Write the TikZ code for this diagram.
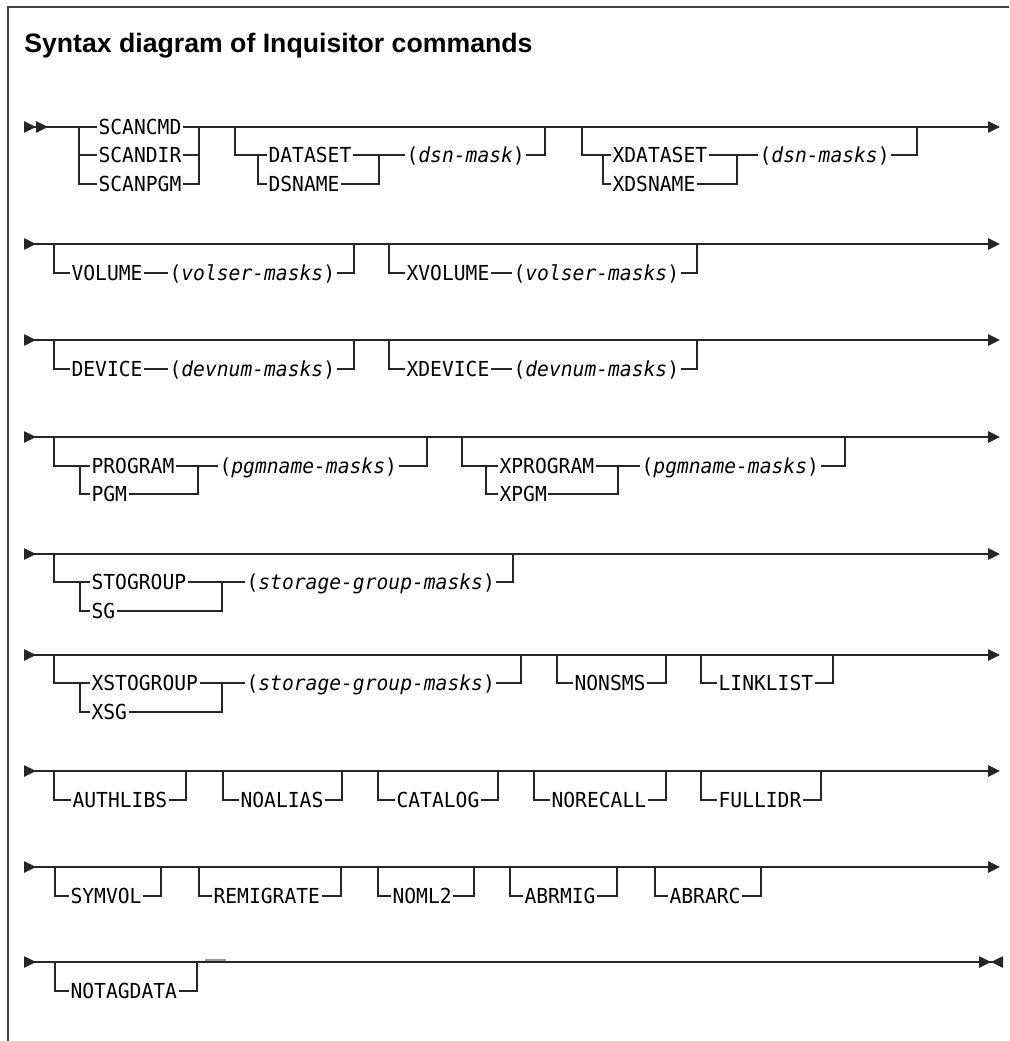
\documentclass[tikz,border=0pt]{standalone}
\usepackage{fontspec}
\setmainfont{Liberation Sans}
\newfontfamily\railfont[FakeStretch=0.95]{DejaVu Sans Mono}
\usetikzlibrary{arrows.meta}
\begin{document}
\begin{tikzpicture}[x=0.75pt,y=-0.75pt]
\tikzset{rail/.style = {line width=1.1pt, black!85}}
\tikzset{item/.style = {font={\railfont\fontsize{15.5pt}{17pt}\selectfont}, inner xsep=1pt, inner ysep=0pt, anchor=west, text height=11.3pt, text depth=0pt}}
\tikzset{railrow/.style = {{Triangle[reversed,length=9pt,width=8.5pt]}-{Triangle[length=9pt,width=8.5pt]}}}
\useasboundingbox (0,0) rectangle (1009,1041);
% frame and title
\draw[line width=1.5pt, black!75] (8,1041) -- (8,7) -- (1009,7);
\node[anchor=base west, inner sep=0pt, font={\fontsize{20pt}{24pt}\selectfont\bfseries}] (title) at (24,53) {Syntax diagram of Inquisitor commands};

% row 1
\coordinate (r1s) at (24,127);
\coordinate (r1e) at (1000,127);
\node[item] (scancmd) at (97,127) {SCANCMD};
\node[item] (scandir) at (97,155) {SCANDIR};
\node[item] (scanpgm) at (97,184) {SCANPGM};
\coordinate (scanL) at (79,127);
\coordinate (scanR) at (199,127);
\draw[rail, {Triangle[reversed,length=9pt,width=8.5pt]Triangle[reversed,length=9pt,width=8.5pt]}-] (r1s) -- (scancmd.west);
\draw[rail, -{Triangle[length=9pt,width=8.5pt]}] (scancmd.east) -- (r1e);
\draw[rail] (scanL) |- (scandir.west);
\draw[rail] (scanL) |- (scanpgm.west);
\draw[rail] (scandir.east) -| (scanR);
\draw[rail] (scanpgm.east) -| (scanR);
\node[item] (dataset) at (267,155) {DATASET};
\node[item] (dsname) at (267,184) {DSNAME};
\node[item] (dsnmask) at (405,155) {(\textit{dsn-mask})};
\coordinate (dsL) at (235,127);
\coordinate (dsS) at (258,155);
\coordinate (dsJ) at (379,155);
\coordinate (dsR) at (545,127);
\draw[rail] (dsL) |- (dataset.west);
\draw[rail] (dsS) |- (dsname.west);
\draw[rail] (dataset.east) -- (dsnmask.west);
\draw[rail] (dsname.east) -| (dsJ);
\draw[rail] (dsnmask.east) -| (dsR);
\node[item] (xdataset) at (611,155) {XDATASET};
\node[item] (xdsname) at (611,184) {XDSNAME};
\node[item] (dsnmasks) at (758,155) {(\textit{dsn-masks})};
\coordinate (xdsL) at (582,127);
\coordinate (xdsS) at (603,155);
\coordinate (xdsJ) at (737,155);
\coordinate (xdsR) at (917,127);
\draw[rail] (xdsL) |- (xdataset.west);
\draw[rail] (xdsS) |- (xdsname.west);
\draw[rail] (xdataset.east) -- (dsnmasks.west);
\draw[rail] (xdsname.east) -| (xdsJ);
\draw[rail] (dsnmasks.east) -| (xdsR);

% row 2
\coordinate (r2s) at (24,244);
\coordinate (r2e) at (1000,244);
\draw[rail, railrow] (r2s) -- (r2e);
\node[item] (volume) at (70,273) {VOLUME};
\node[item] (volsermasks) at (168,273) {(\textit{volser-masks})};
\coordinate (volL) at (54,244);
\coordinate (volR) at (354,244);
\draw[rail] (volL) |- (volume.west);
\draw[rail] (volume.east) -- (volsermasks.west);
\draw[rail] (volsermasks.east) -| (volR);
\node[item] (xvolume) at (405,273) {XVOLUME};
\node[item] (xvolsermasks) at (512,273) {(\textit{volser-masks})};
\coordinate (xvolL) at (389,244);
\coordinate (xvolR) at (697,244);
\draw[rail] (xvolL) |- (xvolume.west);
\draw[rail] (xvolume.east) -- (xvolsermasks.west);
\draw[rail] (xvolsermasks.east) -| (xvolR);

% row 3
\coordinate (r3s) at (24,340);
\coordinate (r3e) at (1000,340);
\draw[rail, railrow] (r3s) -- (r3e);
\node[item] (device) at (70,369) {DEVICE};
\node[item] (devnummasks) at (168,369) {(\textit{devnum-masks})};
\coordinate (devL) at (54,340);
\coordinate (devR) at (354,340);
\draw[rail] (devL) |- (device.west);
\draw[rail] (device.east) -- (devnummasks.west);
\draw[rail] (devnummasks.east) -| (devR);
\node[item] (xdevice) at (405,369) {XDEVICE};
\node[item] (xdevnummasks) at (512,369) {(\textit{devnum-masks})};
\coordinate (xdevL) at (389,340);
\coordinate (xdevR) at (697,340);
\draw[rail] (xdevL) |- (xdevice.west);
\draw[rail] (xdevice.east) -- (xdevnummasks.west);
\draw[rail] (xdevnummasks.east) -| (xdevR);

% row 4
\coordinate (r4s) at (24,437);
\coordinate (r4e) at (1000,437);
\draw[rail, railrow] (r4s) -- (r4e);
\node[item] (program) at (90,466) {PROGRAM};
\node[item] (pgm) at (90,494) {PGM};
\node[item] (pgmmasks) at (218,466) {(\textit{pgmname-masks})};
\coordinate (pgmL) at (54,437);
\coordinate (pgmS) at (80,466);
\coordinate (pgmJ) at (198,466);
\coordinate (pgmR) at (427,437);
\draw[rail] (pgmL) |- (program.west);
\draw[rail] (pgmS) |- (pgm.west);
\draw[rail] (program.east) -- (pgmmasks.west);
\draw[rail] (pgm.east) -| (pgmJ);
\draw[rail] (pgmmasks.east) -| (pgmR);
\node[item] (xprogram) at (498,466) {XPROGRAM};
\node[item] (xpgm) at (498,494) {XPGM};
\node[item] (xpgmmasks) at (640,466) {(\textit{pgmname-masks})};
\coordinate (xpgmL) at (462,437);
\coordinate (xpgmS) at (486,466);
\coordinate (xpgmJ) at (618,466);
\coordinate (xpgmR) at (845,437);
\draw[rail] (xpgmL) |- (xprogram.west);
\draw[rail] (xpgmS) |- (xpgm.west);
\draw[rail] (xprogram.east) -- (xpgmmasks.west);
\draw[rail] (xpgm.east) -| (xpgmJ);
\draw[rail] (xpgmmasks.east) -| (xpgmR);

% row 5
\coordinate (r5s) at (24,554);
\coordinate (r5e) at (1000,554);
\draw[rail, railrow] (r5s) -- (r5e);
\node[item] (stogroup) at (90,582) {STOGROUP};
\node[item] (sg) at (90,611) {SG};
\node[item] (sgmasks) at (245,582) {(\textit{storage-group-masks})};
\coordinate (sgL) at (54,554);
\coordinate (sgS) at (80,582);
\coordinate (sgJ) at (222,582);
\coordinate (sgR) at (513,554);
\draw[rail] (sgL) |- (stogroup.west);
\draw[rail] (sgS) |- (sg.west);
\draw[rail] (stogroup.east) -- (sgmasks.west);
\draw[rail] (sg.east) -| (sgJ);
\draw[rail] (sgmasks.east) -| (sgR);

% row 6
\coordinate (r6s) at (24,655);
\coordinate (r6e) at (1000,655);
\draw[rail, railrow] (r6s) -- (r6e);
\node[item] (xstogroup) at (90,683) {XSTOGROUP};
\node[item] (xsg) at (90,712) {XSG};
\node[item] (xsgmasks) at (245,683) {(\textit{storage-group-masks})};
\coordinate (xsgL) at (54,655);
\coordinate (xsgS) at (80,683);
\coordinate (xsgJ) at (222,683);
\coordinate (xsgR) at (521,655);
\draw[rail] (xsgL) |- (xstogroup.west);
\draw[rail] (xsgS) |- (xsg.west);
\draw[rail] (xstogroup.east) -- (xsgmasks.west);
\draw[rail] (xsg.east) -| (xsgJ);
\draw[rail] (xsgmasks.east) -| (xsgR);
\node[item] (nonsms) at (573,683) {NONSMS};
\draw[rail] (557,655) |- (nonsms.west);
\draw[rail] (nonsms.east) -| (666,655);
\node[item] (linklist) at (717,683) {LINKLIST};
\draw[rail] (701,655) |- (linklist.west);
\draw[rail] (linklist.east) -| (833,655);

% row 7
\coordinate (r7s) at (24,771);
\coordinate (r7e) at (1000,771);
\draw[rail, railrow] (r7s) -- (r7e);
\node[item] (authlibs) at (71,800) {AUTHLIBS};
\draw[rail] (54,771) |- (authlibs.west);
\draw[rail] (authlibs.east) -| (186,771);
\node[item] (noalias) at (239,800) {NOALIAS};
\draw[rail] (223,771) |- (noalias.west);
\draw[rail] (noalias.east) -| (342,771);
\node[item] (catalog) at (395,800) {CATALOG};
\draw[rail] (378,771) |- (catalog.west);
\draw[rail] (catalog.east) -| (498,771);
\node[item] (norecall) at (550,800) {NORECALL};
\draw[rail] (534,771) |- (norecall.west);
\draw[rail] (norecall.east) -| (666,771);
\node[item] (fullidr) at (717,800) {FULLIDR};
\draw[rail] (701,771) |- (fullidr.west);
\draw[rail] (fullidr.east) -| (821,771);

% row 8
\coordinate (r8s) at (24,867);
\coordinate (r8e) at (1000,867);
\draw[rail, railrow] (r8s) -- (r8e);
\node[item] (symvol) at (69,896) {SYMVOL};
\draw[rail] (55,867) |- (symvol.west);
\draw[rail] (symvol.east) -| (161,867);
\node[item] (remigrate) at (212,896) {REMIGRATE};
\draw[rail] (199,867) |- (remigrate.west);
\draw[rail] (remigrate.east) -| (341,867);
\node[item] (noml2) at (391,896) {NOML2};
\draw[rail] (378,867) |- (noml2.west);
\draw[rail] (noml2.east) -| (474,867);
\node[item] (abrmig) at (523,896) {ABRMIG};
\draw[rail] (510,867) |- (abrmig.west);
\draw[rail] (abrmig.east) -| (617,867);
\node[item] (abrarc) at (668,896) {ABRARC};
\draw[rail] (655,867) |- (abrarc.west);
\draw[rail] (abrarc.east) -| (761,867);

% row 9
\coordinate (r9s) at (24,962);
\coordinate (r9e) at (1003,962);
\draw[rail, {Triangle[reversed,length=9pt,width=8.5pt]}-{Triangle[length=9pt,width=8.5pt]Triangle[reversed,length=9pt,width=8.5pt]}] (r9s) -- (r9e);
\node[item] (notagdata) at (69,991) {NOTAGDATA};
\draw[rail] (55,962) |- (notagdata.west);
\draw[rail] (notagdata.east) -| (197,962);
\draw[line width=1pt, black!40] (205,960) -- (226,960);
\end{tikzpicture}
\end{document}
